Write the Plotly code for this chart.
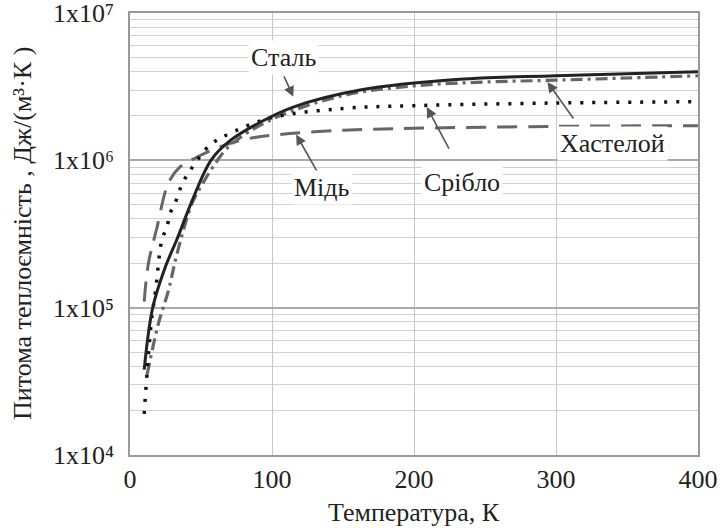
import plotly.graph_objects as go
import numpy as np

steel_T = [10, 16, 25, 33, 45, 57, 70, 92, 115, 162, 232, 300, 400]
steel_v = [3.8e4, 1.0e5, 1.9e5, 2.9e5, 5.7e5, 1.0e6, 1.35e6, 1.82e6, 2.3e6, 3.0e6, 3.55e6, 3.75e6, 4.0e6]

silver_T = [10, 12, 15, 18, 22.5, 26, 28, 32, 35, 39, 44, 56, 72, 100, 150, 200, 300, 400]
silver_v = [1.9e4, 3.6e4, 8.0e4, 1.3e5, 2.9e5, 3.5e5, 4.3e5, 5.2e5, 6.3e5, 7.6e5, 9.0e5, 1.26e6, 1.55e6, 1.95e6, 2.25e6, 2.35e6, 2.45e6, 2.5e6]

copper_T = [10, 13, 19, 27, 35, 47, 60, 80, 100, 150, 200, 300, 400]
copper_v = [1.1e5, 2.0e5, 3.5e5, 7.0e5, 9.0e5, 1.05e6, 1.2e6, 1.38e6, 1.48e6, 1.6e6, 1.65e6, 1.7e6, 1.72e6]

hast_T = [12, 20, 27, 33, 44, 51, 58, 70, 100, 150, 200, 250, 300, 350, 400]
hast_v = [3.5e4, 7.8e4, 1.3e5, 2.3e5, 5.2e5, 6.9e5, 8.9e5, 1.25e6, 1.9e6, 2.75e6, 3.2e6, 3.4e6, 3.5e6, 3.62e6, 3.75e6]

y_tickvals = [1e4, 1e5, 1e6, 1e7]
y_ticktext = ["1x10⁴", "1x10⁵", "1x10⁶", "1x10⁷"]
x_tickvals = [0, 100, 200, 300, 400]
y_title = "Питома теплоємність , Дж/(м³·К )"
x_title = "Температура, К"

minor_vals = [m * 10 ** e for e in range(4, 7) for m in range(2, 10)]

FONT = "Liberation Serif"
FS = 26

fig = go.Figure()
fig.add_trace(go.Scatter(x=copper_T, y=copper_v, mode="lines", line=dict(color="#666666", width=3, dash="20px,11px"), line_shape="spline"))
fig.add_trace(go.Scatter(x=hast_T, y=hast_v, mode="lines", line=dict(color="#666666", width=3.2, dash="12px,5px,3px,5px"), line_shape="spline"))
fig.add_trace(go.Scatter(x=silver_T, y=silver_v, mode="lines", line=dict(color="#111111", width=3.5, dash="3px,9px"), line_shape="spline"))
fig.add_trace(go.Scatter(x=steel_T, y=steel_v, mode="lines", line=dict(color="#222222", width=3), line_shape="spline"))

labels = [
    ("Сталь", 108, 5.0e6, 115, 2.7e6, -10, -22),
    ("Мідь", 135, 6.5e5, 117, 1.5e6, 22, 39),
    ("Срібло", 234, 7.1e5, 209, 2.3e6, 23, 43),
    ("Хастелой", 340, 1.3e6, 294, 3.4e6, 27, 38),
]
for txt, lx, ly, hx, hy, axp, ayp in labels:
    fig.add_annotation(x=hx, y=np.log10(hy), ax=axp, ay=ayp, text="", showarrow=True,
                       arrowhead=2, arrowsize=1.3, arrowwidth=1.6, arrowcolor="#555555", axref="pixel", ayref="pixel")
    fig.add_annotation(x=lx, y=np.log10(ly), text=txt, showarrow=False, bgcolor="white",
                       font=dict(family=FONT, size=FS, color="#222222"), borderpad=2)

fig.add_annotation(xref="paper", yref="paper", x=0, y=0.5, xshift=-108, xanchor="center", yanchor="middle",
                   text=y_title, textangle=-90, showarrow=False,
                   font=dict(family=FONT, size=FS, color="#222222"))
fig.add_annotation(xref="paper", yref="paper", x=0.5, y=0, yshift=-57, xanchor="center", yanchor="middle",
                   text=x_title, showarrow=False,
                   font=dict(family=FONT, size=FS, color="#222222"))

fig.update_layout(
    width=720, height=531,
    margin=dict(l=130, r=22, t=13, b=76),
    plot_bgcolor="white", paper_bgcolor="white",
    showlegend=False,
    font=dict(family=FONT, size=FS, color="#222222"),
    xaxis=dict(range=[0, 400], tickvals=x_tickvals, showgrid=True, gridcolor="#c8c8c8", gridwidth=1,
               showline=True, linecolor="#999999", linewidth=1.5, mirror=True, ticks="", zeroline=False,
               ticklabeloverflow="allow", automargin=False,
               tickfont=dict(family=FONT, size=FS)),
    yaxis=dict(type="log", range=[4, 7], tickvals=y_tickvals, ticktext=y_ticktext,
               showgrid=True, gridcolor="#aaaaaa", gridwidth=1.5,
               minor=dict(tickvals=minor_vals, showgrid=True, gridcolor="#d0d0d0", gridwidth=1, ticks=""),
               showline=True, linecolor="#999999", linewidth=1.5, mirror=True, ticks="",
               ticklabeloverflow="allow", automargin=False, ticklabelstandoff=9,
               tickfont=dict(family=FONT, size=FS)),
)

fig.write_html("out.html")
